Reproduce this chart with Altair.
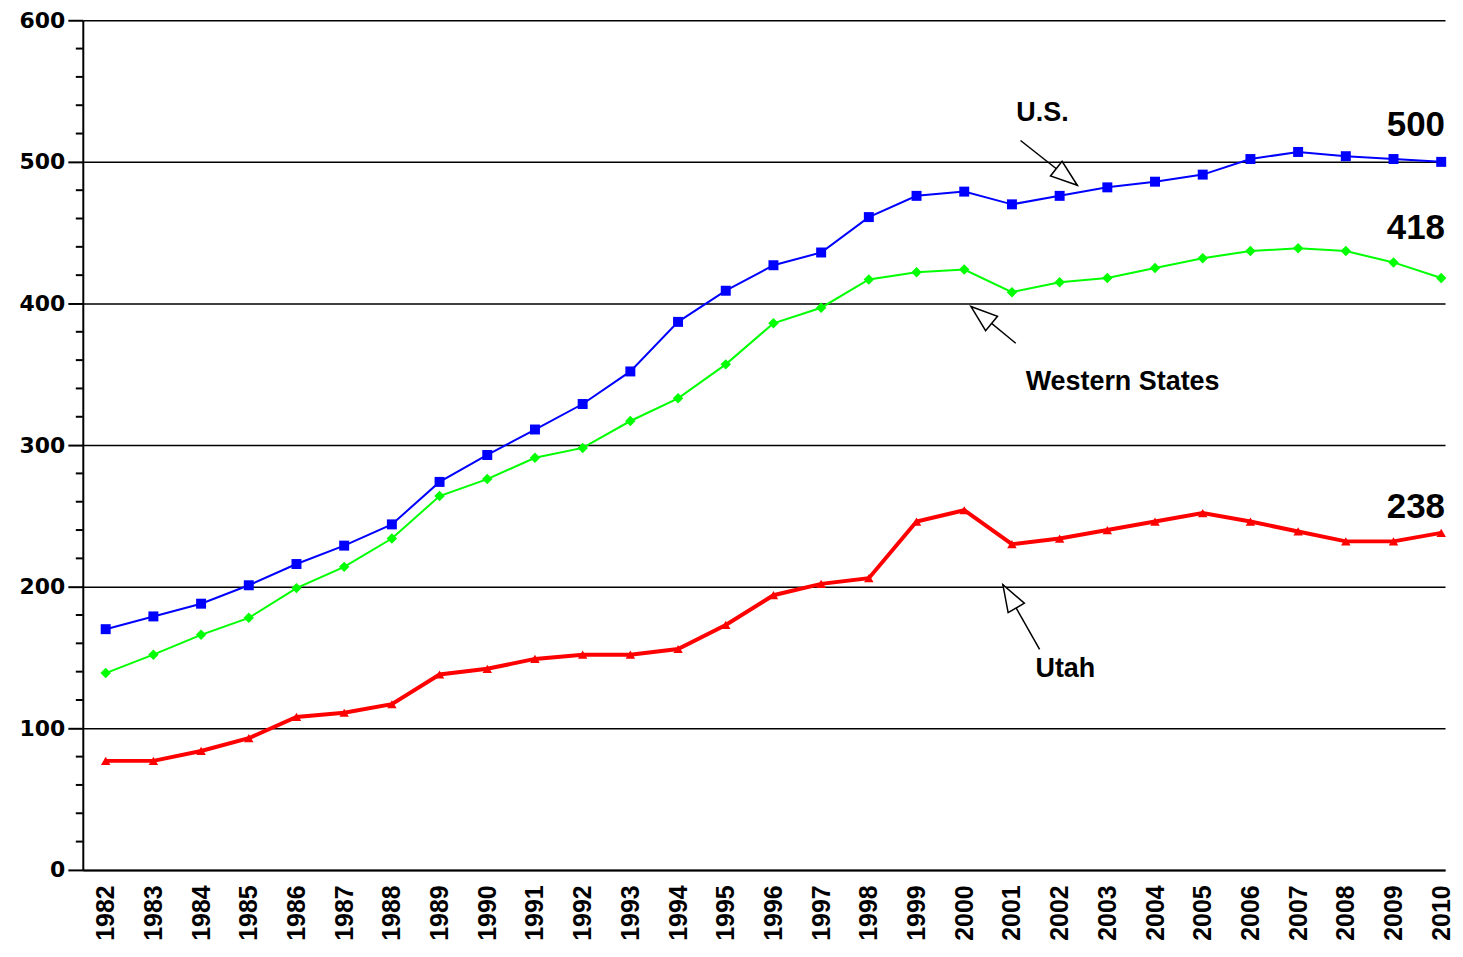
import altair as alt
import pandas as pd

years = list(range(1982, 2011))
us = [170, 179, 188, 201, 216, 229, 244, 274, 293, 311, 329, 352, 387, 409, 427, 436,
      461, 476, 479, 470, 476, 482, 486, 491, 502, 507, 504, 502, 500]
western = [139, 152, 166, 178, 199, 214, 234, 264, 276, 291, 298, 317, 333, 357, 386, 397,
           417, 422, 424, 408, 415, 418, 425, 432, 437, 439, 437, 429, 418]
utah = [77, 77, 84, 93, 108, 111, 117, 138, 142, 149, 152, 152, 156, 173, 194, 202,
        206, 246, 254, 230, 234, 240, 246, 252, 246, 239, 232, 232, 238]

series_names = ["U.S.", "Western States", "Utah"]

y_major = [0, 100, 200, 300, 400, 500, 600]
y_minor = [v for v in range(20, 600, 20) if v % 100 != 0]

FONT = "Liberation Sans"
W, H = 1366, 852

df = pd.DataFrame({"year": years, "us": us, "western": western, "utah": utah})

xs = alt.Scale(domain=[1981.52, 2010.08], nice=False, zero=False)
ys = alt.Scale(domain=[0, 600], nice=False)

x_enc = alt.X("year:Q", scale=xs,
              axis=alt.Axis(values=years, format="d", labelAngle=270, grid=False, ticks=False,
                            labelFont=FONT, labelFontWeight="bold", labelFontSize=25,
                            labelColor="black", labelPadding=15, domainColor="black",
                            domainWidth=2, title=None, labelFlush=False, labelOverlap=False))

def series(col, color, width, shape, size):
    base = alt.Chart(df).encode(x=x_enc, y=alt.Y(f"{col}:Q", scale=ys))
    line = base.mark_line(color=color, strokeWidth=width)
    pts = base.mark_point(shape=shape, filled=True, color=color, size=size, opacity=1)
    return line + pts

y_axis_chart = alt.Chart(pd.DataFrame({"v": y_major})).mark_rule(opacity=0).encode(
    y=alt.Y("v:Q", scale=ys,
            axis=alt.Axis(values=y_major, grid=True, gridColor="black", gridWidth=1.5,
                          gridOpacity=1, tickSize=15, tickColor="black", tickWidth=2,
                          domainColor="black", domainWidth=2, labelFont="DejaVu Sans",
                          labelFontWeight="bold", labelFontSize=22, labelColor="black",
                          labelPadding=3, title=None))
)

minor = alt.Chart(pd.DataFrame({"v": y_minor})).mark_rule(color="black", strokeWidth=2).encode(
    y=alt.Y("v:Q", scale=ys), x=alt.value(-7), x2=alt.value(0)
)

# end value labels (text taken from the last value of each series)
end_df = pd.DataFrame({
    "label": [str(us[-1]), str(western[-1]), str(utah[-1])],
    "y": [526.3, 453.3, 256.1],
})
end_labels = alt.Chart(end_df).mark_text(font=FONT, fontWeight="bold", fontSize=35,
                                         color="black", align="right", baseline="middle").encode(
    x=alt.value(W), y=alt.Y("y:Q", scale=ys), text="label:N"
)

# series name annotations
ann_df = pd.DataFrame({
    "text": series_names,
    "x": [2001.64, 2003.32, 2002.12],
    "y": [534.7, 344.6, 141.8],
})
ann = alt.Chart(ann_df).mark_text(font=FONT, fontWeight="bold", fontSize=27, color="black",
                                  baseline="middle").encode(
    x=alt.X("x:Q", scale=xs), y=alt.Y("y:Q", scale=ys), text="text:N"
)

arrow_df = pd.DataFrame({
    "x1": [2001.18, 2001.08, 2001.58],
    "y1": [515.1, 371.9, 155.8],
    "x2": [2002.37, 2000.14, 2000.81],
    "y2": [483.5, 397.9, 201.4],
    "angle": [128.3, 309.5, 330.0],
})
arrow_lines = alt.Chart(arrow_df).mark_rule(color="black", strokeWidth=1.5).encode(
    x=alt.X("x1:Q", scale=xs), y=alt.Y("y1:Q", scale=ys),
    x2="x2:Q", y2="y2:Q"
)
arrow_heads = alt.Chart(arrow_df).mark_point(
    shape="M0,0 L-0.7,2 L0.7,2 Z", filled=True, fill="white", stroke="black",
    strokeWidth=1.5, size=720, opacity=1
).encode(
    x=alt.X("x2:Q", scale=xs), y=alt.Y("y2:Q", scale=ys),
    angle=alt.Angle("angle:Q", scale=None)
)

chart = alt.layer(
    y_axis_chart,
    minor,
    series("western", "#00ff00", 2, "diamond", 110),
    series("us", "#0000ff", 2, "square", 100),
    series("utah", "#ff0000", 4, "triangle-up", 90),
    arrow_lines,
    arrow_heads,
    ann,
    end_labels,
).properties(
    width=W, height=H, background="white",
    padding={"left": 11, "top": 0, "right": 0, "bottom": 0},
).configure_view(stroke=None)

chart.save("out.html", embed_options={"renderer": "svg", "actions": False})
